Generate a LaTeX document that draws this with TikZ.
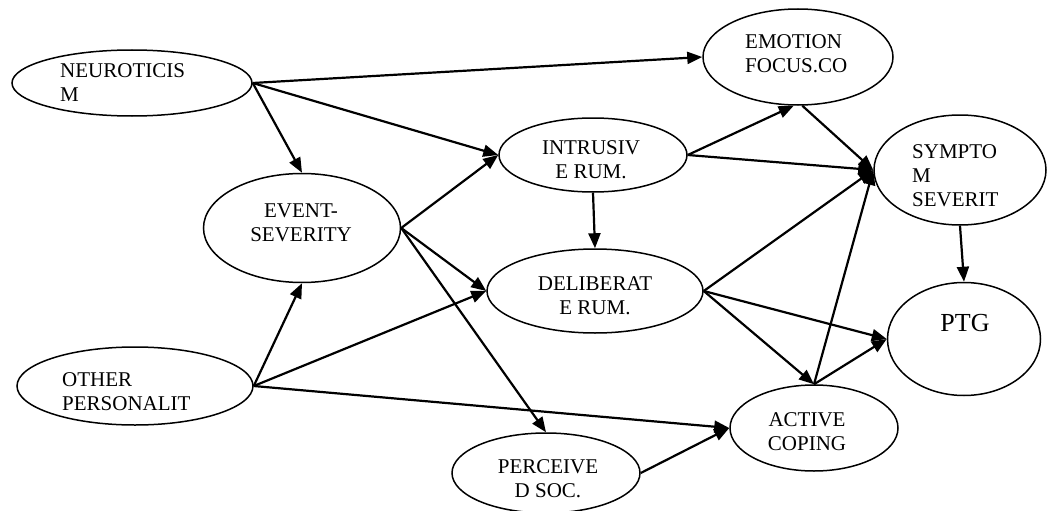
\documentclass[tikz,border=0pt]{standalone}
\usepackage{fontspec}
\setmainfont{Liberation Serif}
\usetikzlibrary{arrows.meta,shapes.geometric}

\begin{document}
\begin{tikzpicture}[x=1pt,y=-1pt,
    var/.style={draw,ellipse,line width=1.5pt,inner sep=0pt},
    lbl/.style={font=\fontsize{21}{24}\selectfont,inner sep=0pt},
    arr/.style={line width=2.2pt,-{Triangle[length=15pt,width=12pt]}}]
  \useasboundingbox (0,0) rectangle (1047,511);
  % the variables
  \node [var,minimum width=240pt,minimum height=66pt] (neuro) at (132,83) {};
  \node [var,minimum width=190pt,minimum height=96pt] (emo) at (798,57) {};
  \node [var,minimum width=172pt,minimum height=110pt] (sym) at (960,170) {};
  \node [var,minimum width=188pt,minimum height=74pt] (intr) at (593,155) {};
  \node [var,minimum width=197pt,minimum height=109pt] (event) at (302,228) {};
  \node [var,minimum width=216pt,minimum height=84pt] (delib) at (595,291) {};
  \node [var,minimum width=153pt,minimum height=113pt] (ptg) at (964,339) {};
  \node [var,minimum width=236pt,minimum height=78pt] (other) at (135,386) {};
  \node [var,minimum width=168pt,minimum height=86pt] (active) at (814,428) {};
  \node [var,minimum width=188pt,minimum height=80pt] (perc) at (546,473) {};
  % their texts (base = last line)
  \node [lbl,anchor=base west,align=left] (neuroT) at (60,101) {NEUROTICIS\\M};
  \node [lbl,anchor=base west,align=left] (emoT) at (745,73) {EMOTION\\FOCUS.CO};
  \node [lbl,anchor=base west,align=left] (symT) at (912,206) {SYMPTO\\M\\SEVERIT};
  \node [lbl,anchor=base,align=center] (intrT) at (591,178) {INTRUSIV\\E RUM.};
  \node [lbl,anchor=base,align=center] (eventT) at (301,241) {EVENT-\\SEVERITY};
  \node [lbl,anchor=base,align=center] (delibT) at (595,314) {DELIBERAT\\E RUM.};
  \node [lbl,anchor=base,font=\fontsize{26}{30}\selectfont] (ptgT) at (965,331) {PTG};
  \node [lbl,anchor=base west,align=left] (otherT) at (62,410) {OTHER\\PERSONALIT};
  \node [lbl,anchor=base,align=center] (activeT) at (807,450) {ACTIVE\\COPING};
  \node [lbl,anchor=base,align=center] (percT) at (548,497) {PERCEIVE\\D SOC.};
  % paths
  \draw [arr] (neuro.east) -- (emo.west);
  \draw [arr] (neuro.east) -- (intr.west);
  \draw [arr] (neuro.east) -- (event.north);
  \draw [arr] (event.east) -- (intr.west);
  \draw [arr] (event.east) -- (delib.west);
  \draw [arr] (event.east) -- (perc.north);
  \draw [arr] (other.east) -- (event.south);
  \draw [arr] (other.east) -- (delib.west);
  \draw [arr] (other.east) -- (active.west);
  \draw [arr] (intr.south) -- (delib.north);
  \draw [arr] (intr.east) -- (emo.265);
  \draw [arr] (intr.east) -- (sym.west);
  \draw [arr] (emo.275) -- (sym.west);
  \draw [arr] (delib.east) -- (sym.west);
  \draw [arr] (delib.east) -- (ptg.west);
  \draw [arr] (delib.east) -- (active.north);
  \draw [arr] (active.north) -- (sym.west);
  \draw [arr] (active.north) -- (ptg.west);
  \draw [arr] (perc.east) -- (active.west);
  \draw [arr] (sym.south) -- (ptg.north);
\end{tikzpicture}
\end{document}
